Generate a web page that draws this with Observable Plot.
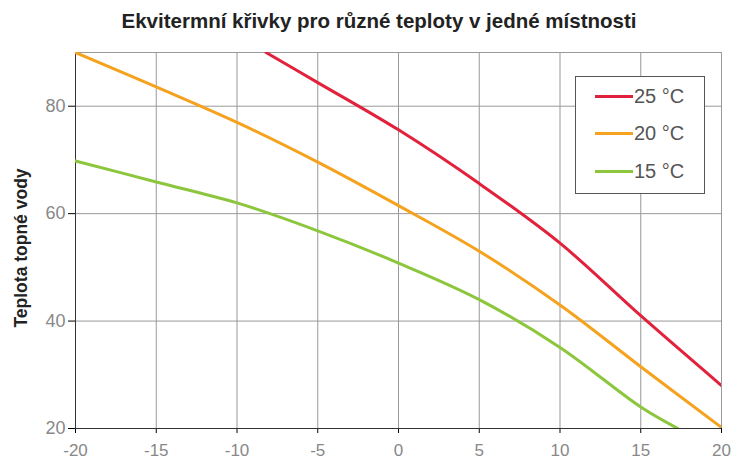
<!DOCTYPE html>
<html>
<head>
<meta charset="utf-8">
<script src="https://cdn.jsdelivr.net/npm/d3@7"></script>
<script src="https://cdn.jsdelivr.net/npm/@observablehq/plot@0.6"></script>
<style>
  html, body { margin: 0; padding: 0; background: #fff; }
  #wrap { position: relative; width: 731px; height: 468px; overflow: hidden; font-family: "Liberation Sans", Arial, sans-serif; }
  #title { position: absolute; left: 0; top: 9px; width: 758px; text-align: center; font-weight: bold; font-size: 20.5px; line-height: 24px; color: #222; }
  #chart { position: absolute; left: 0; top: 40px; }
  #legend { position: absolute; left: 575px; top: 76px; width: 130px; height: 118px; border: 1px solid #555; background: #fff; box-sizing: border-box; }
  .item { position: absolute; left: 19px; height: 22px; display: flex; align-items: center; font-size: 20px; color: #555; }
  .swatch { width: 38px; height: 3px; margin-right: 1px; }
</style>
</head>
<body>
<div id="wrap">
  <div id="title"></div>
  <div id="chart"></div>
  <div id="legend"></div>
</div>
<script>
const titleText = "Ekvitermní křivky pro různé teploty v jedné místnosti";
const yLabel = "Teplota topné vody";
const seriesNames = ["25 °C", "20 °C", "15 °C"];
const seriesColors = ["#e2213c", "#f5a21e", "#8cc63c"];

const xRed = [-8.2, -5, 0, 5, 10, 15, 20];
const yRed = [90, 84.4, 75.6, 65.6, 54.5, 41, 28];
const xOrange = [-20, -15, -10, -5, 0, 5, 10, 15, 20];
const yOrange = [90, 83.6, 77, 69.6, 61.5, 53, 43, 31.5, 20.2];
const xGreen = [-20, -15, -10, -5, 0, 5, 10, 15, 17.3];
const yGreen = [69.8, 65.9, 62, 56.8, 50.8, 44, 35.1, 24, 20];

const xTicks = [-20, -15, -10, -5, 0, 5, 10, 15, 20];
const yTicks = [20, 40, 60, 80];

const xs = [xRed, xOrange, xGreen];
const ys = [yRed, yOrange, yGreen];
const data = [];
seriesNames.forEach((name, i) => {
  xs[i].forEach((x, j) => data.push({series: name, x, y: ys[i][j]}));
});

document.getElementById("title").textContent = titleText;

const plot = Plot.plot({
  width: 731,
  height: 428,
  marginLeft: 75,
  marginRight: 10,
  marginTop: 12,
  marginBottom: 40,
  style: {fontFamily: "Liberation Sans, Arial, sans-serif", fontSize: "17px", background: "white"},
  x: {domain: [-20, 20], ticks: xTicks, tickFormat: d => String(d), label: null},
  y: {domain: [20, 90], ticks: yTicks, tickFormat: d => String(d), label: null},
  color: {domain: seriesNames, range: seriesColors},
  marks: [
    Plot.gridX(xTicks, {stroke: "#999", strokeOpacity: 1, strokeWidth: 1}),
    Plot.gridY(yTicks, {stroke: "#999", strokeOpacity: 1, strokeWidth: 1}),
    Plot.frame({stroke: "#999"}),
    Plot.axisX({ticks: xTicks, tickFormat: d => String(d), tickSize: 5, tickPadding: 10, fill: "#888", fontSize: 17, label: null}),
    Plot.axisY({ticks: yTicks, tickFormat: d => String(d), tickSize: 7, tickPadding: 3, fill: "#888", fontSize: 18, label: null}),
    Plot.ruleX([-20], {stroke: "#333"}),
    Plot.ruleY([20], {stroke: "#333"}),
    Plot.line(data, {x: "x", y: "y", z: "series", stroke: "series", strokeWidth: 3, curve: "catmull-rom", clip: true})
  ]
});
document.getElementById("chart").appendChild(plot);

// y axis label
const svg = d3.select(plot);
svg.append("text")
  .attr("transform", "translate(22,208) rotate(-90)")
  .attr("text-anchor", "middle")
  .attr("dominant-baseline", "middle")
  .attr("font-weight", "bold")
  .attr("font-size", "17.5px")
  .attr("fill", "#222")
  .text(yLabel);

// legend
const legend = document.getElementById("legend");
seriesNames.forEach((name, i) => {
  const item = document.createElement("div");
  item.className = "item";
  item.style.top = (8 + i * 37.5) + "px";
  const sw = document.createElement("div");
  sw.className = "swatch";
  sw.style.background = seriesColors[i];
  const t = document.createElement("span");
  t.textContent = name;
  item.appendChild(sw);
  item.appendChild(t);
  legend.appendChild(item);
});
</script>
</body>
</html>
